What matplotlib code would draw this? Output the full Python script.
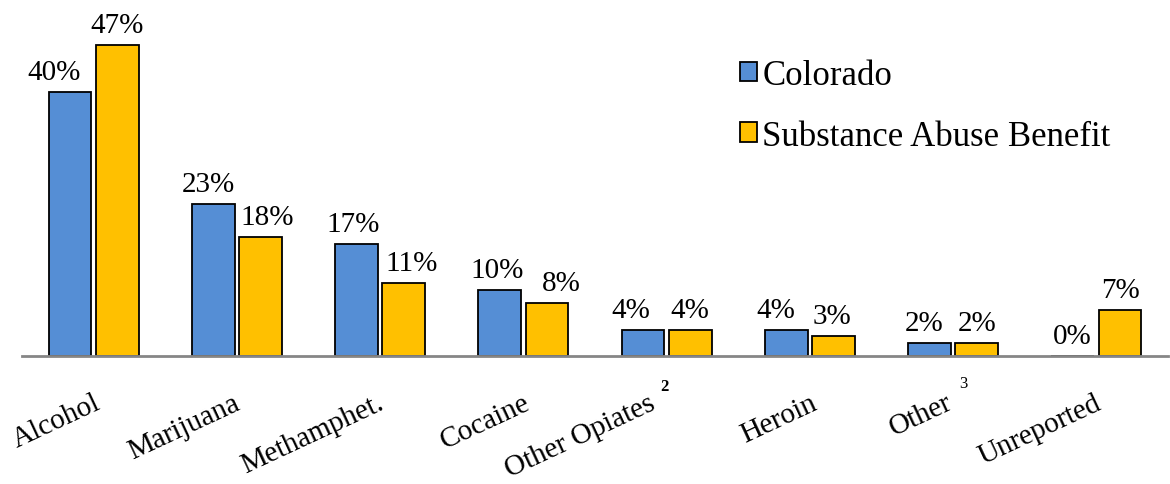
import numpy as np
import matplotlib
matplotlib.use("Agg")
import matplotlib.pyplot as plt
from matplotlib.patches import Patch
import matplotlib.transforms as mtransforms

plt.rcParams['font.family'] = ['Liberation Serif', 'DejaVu Serif']

categories = ["Alcohol", "Marijuana", "Methamphet.", "Cocaine", "Other Opiates",
              "Heroin", "Other", "Unreported"]
colorado = [40, 23, 17, 10, 4, 4, 2, 0]
benefit = [47, 18, 11, 8, 4, 3, 2, 7]
# footnote marks on some category names
footnotes = {4: "2", 6: "3"}

# small horizontal nudges (pixels) for value labels and tick labels, like the original layout
nudge_co = [-16, -5, -3, -3, -12, -10, -5, 0]
nudge_sab = [0, 7, 8, 14, 0, -2, 0, 0]
nudge_tick = [0, -4, -3, 0, -18, 0, -8, -2]

blue = "#558ED5"
gold = "#FFC000"

fig = plt.figure(figsize=(11.7, 4.85), dpi=100)
ax = fig.add_axes([22 / 1170, 1 - 357 / 485, 1146 / 1170, 357 / 485])

x = np.arange(len(categories))
w = 0.30
off = 0.165
ax.bar(x - off, colorado, w, color=blue, edgecolor="black", linewidth=1.3, label="Colorado")
ax.bar(x + off, benefit, w, color=gold, edgecolor="black", linewidth=1.3,
       label="Substance Abuse Benefit")

for i in range(len(categories)):
    ax.annotate(f"{colorado[i]}%", (x[i] - off, colorado[i]), xytext=(nudge_co[i] * 0.72, 5),
                textcoords="offset points", ha="center", va="bottom", fontsize=21)
    ax.annotate(f"{benefit[i]}%", (x[i] + off, benefit[i]), xytext=(nudge_sab[i] * 0.72, 5),
                textcoords="offset points", ha="center", va="bottom", fontsize=21)

ax.set_xlim(-0.5, len(categories) - 0.5)
ax.set_ylim(0, 54)
ax.set_yticks([])
ax.set_xticks(x)
ax.set_xticklabels(categories, rotation=25, ha="right", va="top",
                   rotation_mode="anchor", fontsize=21)
ax.tick_params(axis="x", length=0, pad=24)
for lab, dx in zip(ax.get_xticklabels(), nudge_tick):
    lab.set_transform(lab.get_transform() +
                      mtransforms.ScaledTranslation(dx / 100, 0, fig.dpi_scale_trans))

for s in ["top", "right", "left"]:
    ax.spines[s].set_visible(False)
ax.spines["bottom"].set_color("#868686")
ax.spines["bottom"].set_linewidth(2)

# footnote superscripts beside the tick labels
trans = mtransforms.blended_transform_factory(ax.transData, ax.transAxes)
ax.text(4 - 0.015, -0.085, footnotes[4], transform=trans, fontsize=12, fontweight="bold",
        ha="center", va="center")
ax.text(6 + 0.07, -0.075, footnotes[6], transform=trans, fontsize=12,
        ha="center", va="center")

handles = [Patch(facecolor=blue, edgecolor="black", linewidth=1.3),
           Patch(facecolor=gold, edgecolor="black", linewidth=1.3)]
ax.legend(handles, ["Colorado", "Substance Abuse Benefit"], loc="upper left",
          bbox_to_anchor=(0.599, 0.92), frameon=False, fontsize=25,
          handlelength=0.5, handleheight=0.5, handletextpad=0.15, labelspacing=0.8)

fig.savefig("out.png", dpi=100)
